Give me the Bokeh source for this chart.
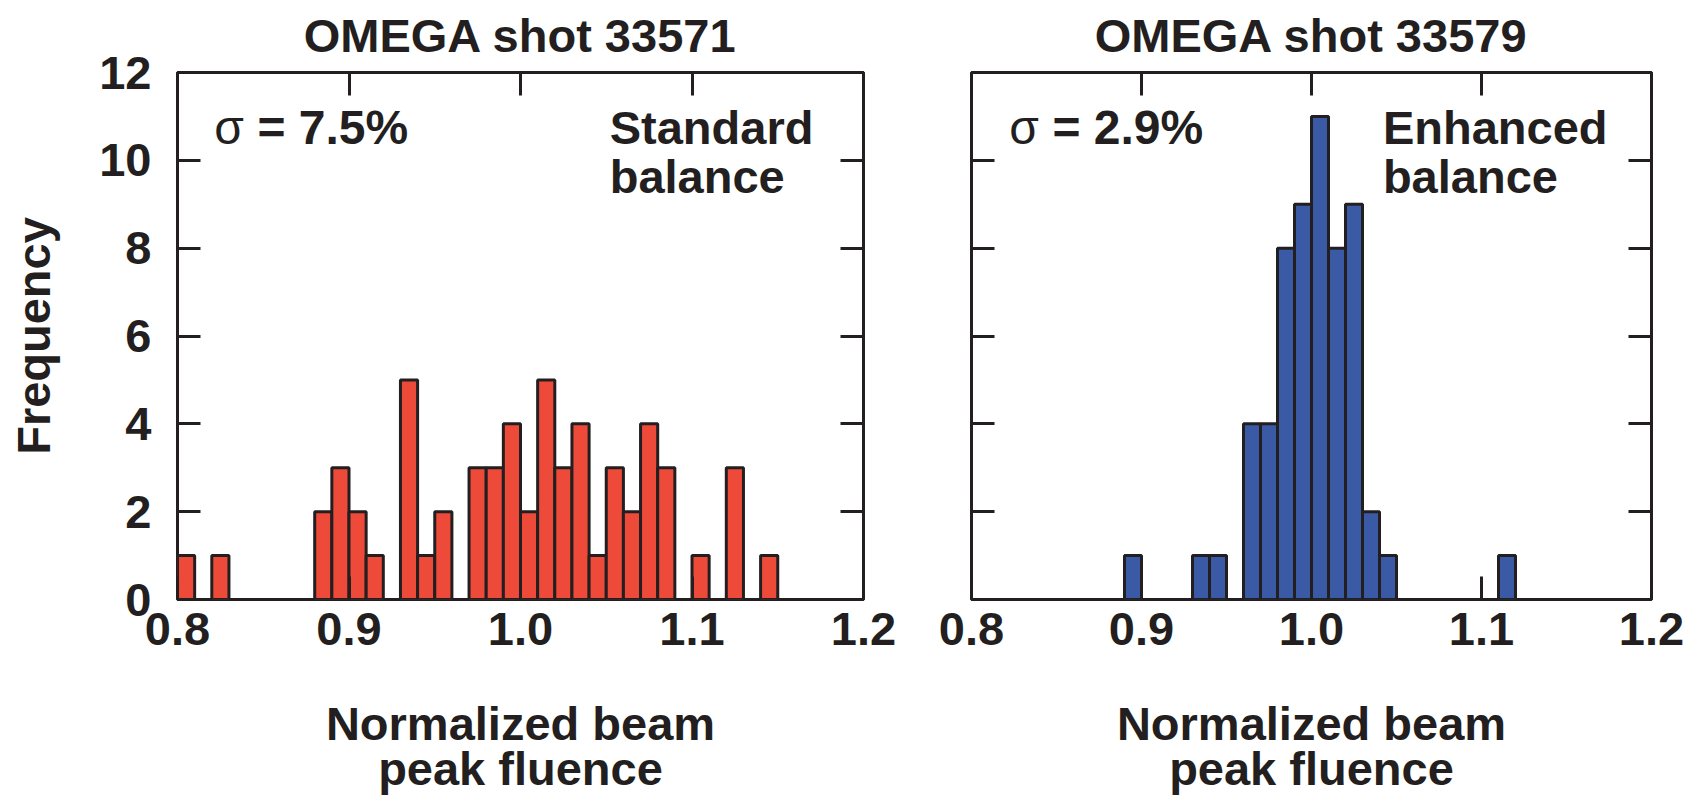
from bokeh.plotting import figure
from bokeh.models import (Range1d, LinearAxis, FixedTicker, Label, PrintfTickFormatter,
                          CustomLabelingPolicy)
from bokeh.layouts import row
from bokeh.embed import file_html
from bokeh.resources import INLINE

# ---- data -------------------------------------------------------------
bin_width = 0.01
left_title = "OMEGA shot 33571"
left_bins = [0.80, 0.82, 0.88, 0.89, 0.90, 0.91, 0.93, 0.94, 0.95, 0.97, 0.98, 0.99,
             1.00, 1.01, 1.02, 1.03, 1.04, 1.05, 1.06, 1.07, 1.08, 1.10, 1.12, 1.14]
left_counts = [1, 1, 2, 3, 2, 1, 5, 1, 2, 3, 3, 4,
               2, 5, 3, 4, 1, 3, 2, 4, 3, 1, 3, 1]
left_sigma = "= 7.5%"
left_note = ["Standard", "balance"]

right_title = "OMEGA shot 33579"
right_bins = [0.89, 0.93, 0.94, 0.96, 0.97, 0.98, 0.99, 1.00, 1.01, 1.02, 1.03, 1.04, 1.11]
right_counts = [1, 1, 1, 4, 4, 8, 9, 11, 8, 9, 2, 1, 1]
right_sigma = "= 2.9%"
right_note = ["Enhanced", "balance"]

x_ticks = [0.8, 0.9, 1.0, 1.1, 1.2]
y_ticks = [0, 2, 4, 6, 8, 10, 12]
x_label = "Normalized beam\npeak fluence"
y_label = "Frequency"

# ---- style ------------------------------------------------------------
INK = "#231f20"
FONT = "Liberation Sans"
FS = "47px"

NO_LABELS = CustomLabelingPolicy(code="return new Set()")


def style_axis(ax, show_labels=True):
    ax.axis_line_color = None
    ax.major_tick_in = 23
    ax.major_tick_out = 0
    ax.minor_tick_line_color = None
    ax.major_tick_line_color = INK
    ax.major_tick_line_width = 3
    if show_labels:
        ax.major_label_text_font = FONT
        ax.major_label_text_font_size = FS
        ax.major_label_text_font_style = "bold"
        ax.major_label_text_color = INK
    else:
        ax.major_label_policy = CustomLabelingPolicy(code="return new Set()")
        ax.major_label_text_font_size = "1px"
        ax.major_label_standoff = 0


def make_panel(title, bins, counts, sigma, note, color, left_border, frame_w,
               right_border, show_y, sigma_x, eq_x, note_x):
    p = figure(width=left_border + frame_w + right_border, height=802,
               x_range=Range1d(0.8, 1.2), y_range=Range1d(0, 12),
               output_backend="svg", toolbar_location=None,
               min_border_left=left_border, min_border_right=right_border,
               min_border_top=71, min_border_bottom=203,
               x_axis_type=None, y_axis_type=None)
    p.grid.visible = False
    p.outline_line_color = INK
    p.outline_line_width = 3
    p.background_fill_color = "white"
    p.border_fill_color = "white"

    p.title.text = title
    p.title.align = "center"
    p.title.text_font = FONT
    p.title.text_font_size = FS
    p.title.text_font_style = "bold"
    p.title.text_color = INK
    p.title.standoff = 13

    lefts = bins
    rights = [b + bin_width for b in bins]
    p.quad(left=lefts, right=rights, bottom=0, top=counts,
           fill_color=color, line_color=INK, line_width=3)

    xb = LinearAxis(ticker=FixedTicker(ticks=x_ticks),
                    formatter=PrintfTickFormatter(format="%.1f"))
    style_axis(xb)
    xb.major_label_standoff = 13
    xb.axis_label = x_label
    xb.axis_label_text_font = FONT
    xb.axis_label_text_font_size = FS
    xb.axis_label_text_font_style = "bold"
    xb.axis_label_text_color = INK
    xb.axis_label_standoff = 49
    xb.axis_label_text_line_height = 0.86
    p.add_layout(xb, "below")

    yl = LinearAxis(ticker=FixedTicker(ticks=y_ticks))
    style_axis(yl, show_labels=show_y)
    if show_y:
        yl.major_label_standoff = 26
        yl.axis_label = y_label
        yl.axis_label_text_font = FONT
        yl.axis_label_text_font_size = FS
        yl.axis_label_text_font_style = "bold"
        yl.axis_label_text_color = INK
        yl.axis_label_standoff = 36
    p.add_layout(yl, "left")

    xt = LinearAxis(ticker=FixedTicker(ticks=x_ticks))
    style_axis(xt, show_labels=False)
    p.add_layout(xt, "above")
    yr = LinearAxis(ticker=FixedTicker(ticks=y_ticks))
    style_axis(yr, show_labels=False)
    p.add_layout(yr, "right")

    p.add_layout(Label(x=sigma_x, y=10.74, text="\u03c3", text_font=FONT,
                       text_font_size="48px", text_color=INK,
                       text_baseline="alphabetic"))
    p.add_layout(Label(x=eq_x, y=10.74, text=sigma, text_font=FONT,
                       text_font_size="48px", text_font_style="bold",
                       text_color=INK, text_baseline="alphabetic"))
    p.add_layout(Label(x=note_x, y=10.75, text=note[0], text_font=FONT,
                       text_font_size=FS, text_font_style="bold",
                       text_color=INK, text_baseline="alphabetic"))
    p.add_layout(Label(x=note_x, y=9.63, text=note[1], text_font=FONT,
                       text_font_size=FS, text_font_style="bold",
                       text_color=INK, text_baseline="alphabetic"))
    return p


p1 = make_panel(left_title, left_bins, left_counts, left_sigma, left_note,
                "#ee4a3a", 177, 686, 54, True, 0.8215, 0.8466, 1.052)
p2 = make_panel(right_title, right_bins, right_counts, right_sigma, right_note,
                "#3a5aa6", 54, 680, 44, False, 0.8222, 0.8476, 1.042)

layout = row(p1, p2)
open("out.html", "w").write(file_html(layout, INLINE))
